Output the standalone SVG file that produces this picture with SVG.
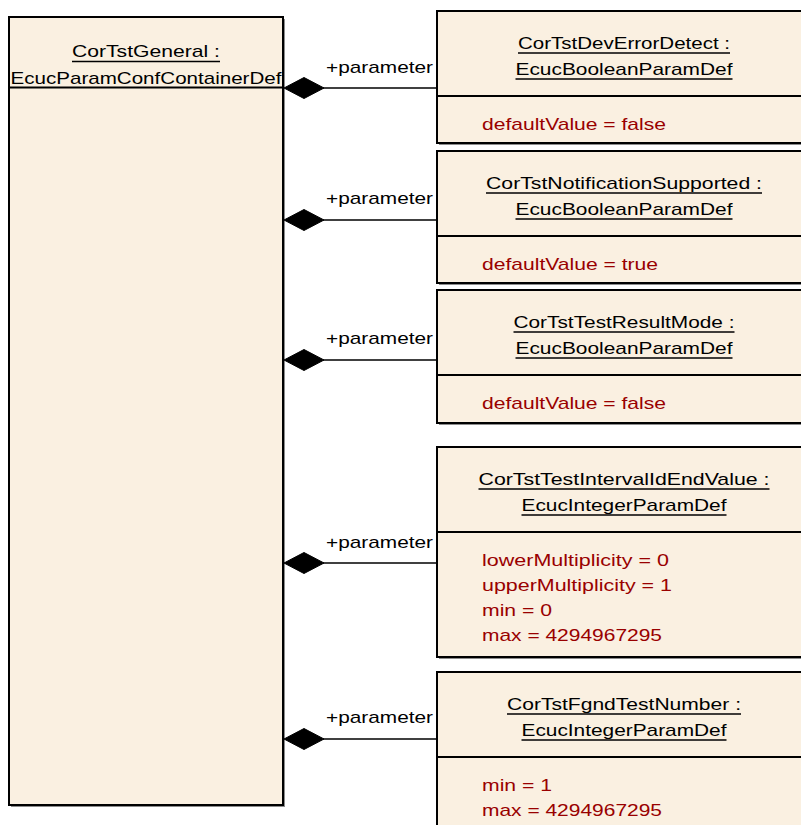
<svg xmlns="http://www.w3.org/2000/svg" width="801" height="825" viewBox="0 0 801 825">
  <style>
    .box { fill: #FAF0E1; stroke: #000; stroke-width: 2; }
    .shadow { fill: #8c8c8c; }
    .sep { stroke: #000; stroke-width: 2; }
    .ul { stroke: #000; stroke-width: 1.4; }
    .title { font-family: "Liberation Sans", Arial, sans-serif; font-size: 17px; fill: #000; text-anchor: middle; }
    .attr { font-family: "Liberation Sans", Arial, sans-serif; font-size: 17px; fill: #990000; }
    .role { font-family: "Liberation Sans", Arial, sans-serif; font-size: 17px; fill: #000; text-anchor: end; }
    .conn { stroke: #000; stroke-width: 1.6; fill: none; }
    .diamond { fill: #000; stroke: #000; stroke-width: 1; }
  </style>

  <rect width="801" height="825" fill="#fff"/>

  <!-- Container definition -->
  <g id="CorTstGeneral">
    <rect class="shadow" x="11" y="19" width="274" height="788"/>
    <rect class="box" x="9" y="17" width="274" height="788"/>
    <text class="title" x="146" y="57" textLength="148" lengthAdjust="spacingAndGlyphs">CorTstGeneral :</text>
    <line class="ul" x1="72" y1="61.5" x2="220" y2="61.5"/>
    <text class="title" x="146" y="84" textLength="271" lengthAdjust="spacingAndGlyphs">EcucParamConfContainerDef</text>
    <line class="sep" x1="9" y1="87.5" x2="283" y2="87.5"/>
  </g>

  <!-- Parameter definitions -->
  <g id="CorTstDevErrorDetect">
    <rect class="shadow" x="439" y="13" width="374" height="132"/>
    <rect class="box" x="437" y="11" width="374" height="132"/>
    <text class="title" x="624" y="49" textLength="212" lengthAdjust="spacingAndGlyphs">CorTstDevErrorDetect :</text>
    <line class="ul" x1="518" y1="53" x2="730" y2="53"/>
    <text class="title" x="624" y="75" textLength="217" lengthAdjust="spacingAndGlyphs">EcucBooleanParamDef</text>
    <line class="ul" x1="515.5" y1="79" x2="732.5" y2="79"/>
    <line class="sep" x1="437" y1="96" x2="811" y2="96"/>
    <text class="attr" x="482" y="130" textLength="184" lengthAdjust="spacingAndGlyphs">defaultValue = false</text>
  </g>

  <g id="CorTstNotificationSupported">
    <rect class="shadow" x="439" y="153" width="374" height="132"/>
    <rect class="box" x="437" y="151" width="374" height="132"/>
    <text class="title" x="624" y="189" textLength="276" lengthAdjust="spacingAndGlyphs">CorTstNotificationSupported :</text>
    <line class="ul" x1="486" y1="193" x2="762" y2="193"/>
    <text class="title" x="624" y="215" textLength="217" lengthAdjust="spacingAndGlyphs">EcucBooleanParamDef</text>
    <line class="ul" x1="515.5" y1="219" x2="732.5" y2="219"/>
    <line class="sep" x1="437" y1="236" x2="811" y2="236"/>
    <text class="attr" x="482" y="270" textLength="176" lengthAdjust="spacingAndGlyphs">defaultValue = true</text>
  </g>

  <g id="CorTstTestResultMode">
    <rect class="shadow" x="439" y="292" width="374" height="133"/>
    <rect class="box" x="437" y="290" width="374" height="133"/>
    <text class="title" x="624" y="328" textLength="221" lengthAdjust="spacingAndGlyphs">CorTstTestResultMode :</text>
    <line class="ul" x1="513.5" y1="332" x2="734.5" y2="332"/>
    <text class="title" x="624" y="354" textLength="217" lengthAdjust="spacingAndGlyphs">EcucBooleanParamDef</text>
    <line class="ul" x1="515.5" y1="358" x2="732.5" y2="358"/>
    <line class="sep" x1="437" y1="375" x2="811" y2="375"/>
    <text class="attr" x="482" y="409" textLength="184" lengthAdjust="spacingAndGlyphs">defaultValue = false</text>
  </g>

  <g id="CorTstTestIntervalIdEndValue">
    <rect class="shadow" x="439" y="449" width="374" height="210"/>
    <rect class="box" x="437" y="447" width="374" height="210"/>
    <text class="title" x="624" y="485" textLength="291" lengthAdjust="spacingAndGlyphs">CorTstTestIntervalIdEndValue :</text>
    <line class="ul" x1="478.5" y1="489" x2="769.5" y2="489"/>
    <text class="title" x="624" y="511" textLength="205" lengthAdjust="spacingAndGlyphs">EcucIntegerParamDef</text>
    <line class="ul" x1="521.5" y1="515" x2="726.5" y2="515"/>
    <line class="sep" x1="437" y1="532" x2="811" y2="532"/>
    <text class="attr" x="482" y="566" textLength="187" lengthAdjust="spacingAndGlyphs">lowerMultiplicity = 0</text>
    <text class="attr" x="482" y="591" textLength="190" lengthAdjust="spacingAndGlyphs">upperMultiplicity = 1</text>
    <text class="attr" x="482" y="616" textLength="70" lengthAdjust="spacingAndGlyphs">min = 0</text>
    <text class="attr" x="482" y="641" textLength="180" lengthAdjust="spacingAndGlyphs">max = 4294967295</text>
  </g>

  <g id="CorTstFgndTestNumber">
    <rect class="shadow" x="439" y="674" width="374" height="170"/>
    <rect class="box" x="437" y="672" width="374" height="170"/>
    <text class="title" x="624" y="710" textLength="234" lengthAdjust="spacingAndGlyphs">CorTstFgndTestNumber :</text>
    <line class="ul" x1="507" y1="714" x2="741" y2="714"/>
    <text class="title" x="624" y="736" textLength="205" lengthAdjust="spacingAndGlyphs">EcucIntegerParamDef</text>
    <line class="ul" x1="521.5" y1="740" x2="726.5" y2="740"/>
    <line class="sep" x1="437" y1="757" x2="811" y2="757"/>
    <text class="attr" x="482" y="791" textLength="70" lengthAdjust="spacingAndGlyphs">min = 1</text>
    <text class="attr" x="482" y="816" textLength="180" lengthAdjust="spacingAndGlyphs">max = 4294967295</text>
  </g>

  <!-- Composition connectors (diamond at the owning container) -->
  <g id="connectors">
    <line class="conn" x1="323" y1="88" x2="437" y2="88"/>
    <polygon class="diamond" points="284,88 304,77.5 324,88 304,98.5"/>
    <text class="role" x="433" y="73" textLength="107" lengthAdjust="spacingAndGlyphs">+parameter</text>

    <line class="conn" x1="323" y1="220" x2="437" y2="220"/>
    <polygon class="diamond" points="284,220 304,209.5 324,220 304,230.5"/>
    <text class="role" x="433" y="204" textLength="107" lengthAdjust="spacingAndGlyphs">+parameter</text>

    <line class="conn" x1="323" y1="360" x2="437" y2="360"/>
    <polygon class="diamond" points="284,360 304,349.5 324,360 304,370.5"/>
    <text class="role" x="433" y="344" textLength="107" lengthAdjust="spacingAndGlyphs">+parameter</text>

    <line class="conn" x1="323" y1="563" x2="437" y2="563"/>
    <polygon class="diamond" points="284,563 304,552.5 324,563 304,573.5"/>
    <text class="role" x="433" y="548" textLength="107" lengthAdjust="spacingAndGlyphs">+parameter</text>

    <line class="conn" x1="323" y1="739" x2="437" y2="739"/>
    <polygon class="diamond" points="284,739 304,728.5 324,739 304,749.5"/>
    <text class="role" x="433" y="723" textLength="107" lengthAdjust="spacingAndGlyphs">+parameter</text>
  </g>
</svg>
